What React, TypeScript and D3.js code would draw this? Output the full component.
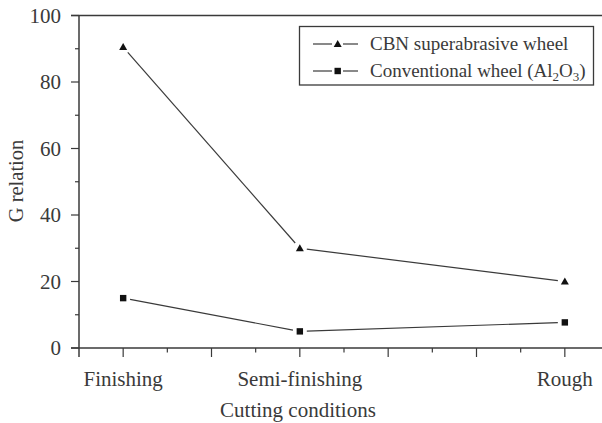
import { scaleLinear, range } from "d3";

const categories = ["Finishing", "Semi-finishing", "Rough"];
const categoryPos = [0, 2, 5];
const cbnValues = [90.5, 30, 20];
const conventionalValues = [15, 5, 7.7];
const yMajorTicks = [0, 20, 40, 60, 80, 100];
const yMinorTicks = [10, 30, 50, 70, 90];
const xMajorTicks = [0, 1, 2, 3, 4, 5];
const xMinorTicks = [0.5, 1.5, 2.5, 3.5, 4.5];

const FONT = "'Liberation Serif', 'Times New Roman', serif";
const INK = "#3a3a3a";

const width = 602;
const height = 423;
const left = 79;
const top = 15.5;
const bottom = 348;

const x = scaleLinear().domain([-0.5, 5.5]).range([left, 609]);
const y = scaleLinear().domain([0, 100]).range([bottom, top]);

function gappedSegments(pts: [number, number][], gap: number) {
  const segs: [number, number, number, number][] = [];
  for (let i = 0; i < pts.length - 1; i++) {
    const [x1, y1] = pts[i];
    const [x2, y2] = pts[i + 1];
    const len = Math.hypot(x2 - x1, y2 - y1);
    const ux = (x2 - x1) / len;
    const uy = (y2 - y1) / len;
    segs.push([x1 + ux * gap, y1 + uy * gap, x2 - ux * gap, y2 - uy * gap]);
  }
  return segs;
}

function Triangle({ cx, cy }: { cx: number; cy: number }) {
  return <path d={`M${cx},${cy - 4}L${cx + 4},${cy + 3}L${cx - 4},${cy + 3}Z`} fill="#111" />;
}

function Square({ cx, cy }: { cx: number; cy: number }) {
  return <rect x={cx - 3.2} y={cy - 3.2} width={6.4} height={6.4} fill="#111" />;
}

function Series({ values, marker }: { values: number[]; marker: "tri" | "sq" }) {
  const pts = values.map((v, i) => [x(categoryPos[i]), y(v)] as [number, number]);
  return (
    <g>
      {gappedSegments(pts, 7).map((s, i) => (
        <line key={i} x1={s[0]} y1={s[1]} x2={s[2]} y2={s[3]} stroke={INK} strokeWidth={1.2} />
      ))}
      {pts.map(([px, py], i) =>
        marker === "tri" ? <Triangle key={i} cx={px} cy={py} /> : <Square key={i} cx={px} cy={py} />
      )}
    </g>
  );
}

export default function App() {
  return (
    <svg width={width} height={height} style={{ position: "absolute", left: 0, top: 0, background: "#fff" }} fontFamily={FONT}>
      {/* frame: left axis, bottom axis, top line */}
      <line x1={left} y1={top} x2={left} y2={357} stroke={INK} strokeWidth={1.5} />
      <line x1={71} y1={bottom} x2={width} y2={bottom} stroke={INK} strokeWidth={1.5} />
      <line x1={71} y1={top} x2={width} y2={top} stroke={INK} strokeWidth={1.5} />

      {yMajorTicks.map((t) => (
        <g key={t}>
          <line x1={71} x2={left} y1={y(t)} y2={y(t)} stroke={INK} strokeWidth={1.2} />
          <text x={61} y={y(t)} dy="0.35em" textAnchor="end" fontSize={21} fill={INK}>
            {t}
          </text>
        </g>
      ))}
      {yMinorTicks.map((t) => (
        <line key={t} x1={75} x2={left} y1={y(t)} y2={y(t)} stroke={INK} strokeWidth={1.2} />
      ))}
      {xMajorTicks.map((t) => (
        <line key={t} x1={x(t)} x2={x(t)} y1={bottom} y2={357} stroke={INK} strokeWidth={1.2} />
      ))}
      {xMinorTicks.map((t) => (
        <line key={t} x1={x(t)} x2={x(t)} y1={bottom} y2={352.5} stroke={INK} strokeWidth={1.2} />
      ))}

      {categories.map((c, i) => (
        <text key={c} x={x(categoryPos[i])} y={386} textAnchor="middle" fontSize={21} fill={INK}>
          {c}
        </text>
      ))}
      <text x={298} y={417} textAnchor="middle" fontSize={21} fill={INK}>
        Cutting conditions
      </text>
      <text transform={`translate(23,181) rotate(-90)`} textAnchor="middle" fontSize={20.5} fill={INK}>
        G relation
      </text>

      <Series values={cbnValues} marker="tri" />
      <Series values={conventionalValues} marker="sq" />

      {/* legend */}
      <rect x={299.5} y={26.5} width={294} height={58.5} fill="#fff" stroke={INK} strokeWidth={1.3} />
      {range(2).map((i) => {
        const ly = i === 0 ? 44 : 71;
        return (
          <g key={i}>
            <line x1={313} x2={332} y1={ly} y2={ly} stroke={INK} strokeWidth={1.2} />
            <line x1={343} x2={358} y1={ly} y2={ly} stroke={INK} strokeWidth={1.2} />
            {i === 0 ? <Triangle cx={337.7} cy={ly} /> : <Square cx={337.7} cy={ly} />}
          </g>
        );
      })}
      <text x={370} y={50} fontSize={19} fill={INK}>
        CBN superabrasive wheel
      </text>
      <text x={370} y={77} fontSize={19} fill={INK}>
        Conventional wheel (Al<tspan fontSize={13} dy={4}>2</tspan>
        <tspan dy={-4}>O</tspan>
        <tspan fontSize={13} dy={4}>3</tspan>
        <tspan dy={-4}>)</tspan>
      </text>
    </svg>
  );
}
